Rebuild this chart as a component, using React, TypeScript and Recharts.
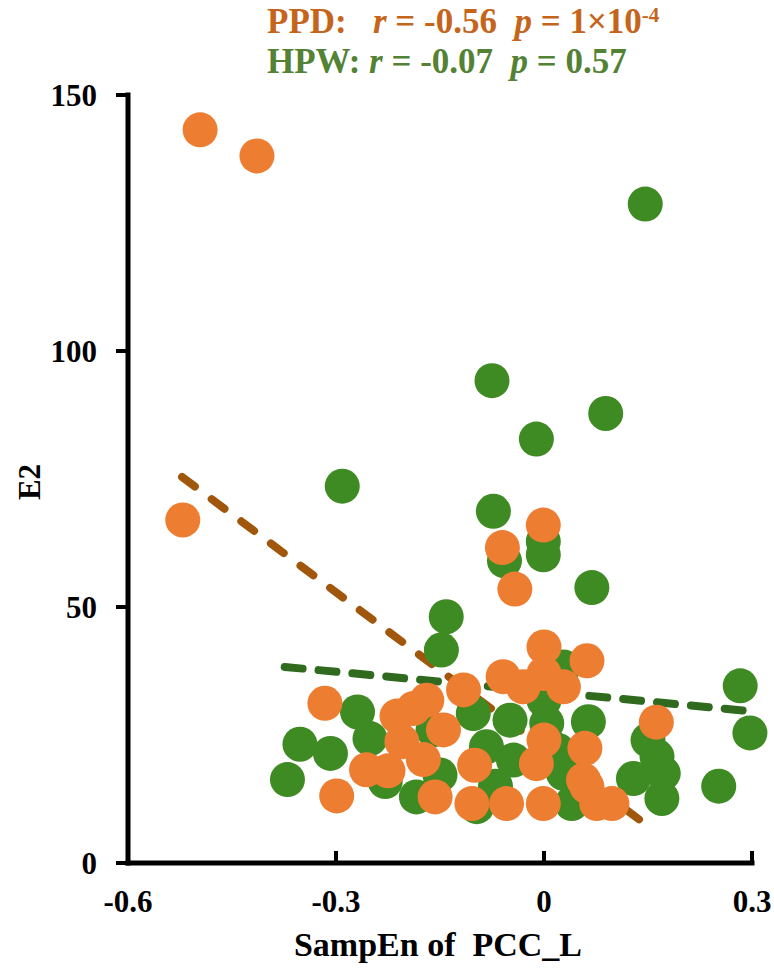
import React from 'react';
import { ReferenceLine, Scatter, ScatterChart, XAxis, YAxis } from 'recharts';

// PPD group (orange)
const ppdX = [
  -0.496, -0.414, -0.521, -0.001, -0.06, -0.042, 0.0, 0.062, 0.162, -0.316, -0.299, -0.256, -0.225,
  -0.212, -0.188, -0.169, -0.205, -0.174, -0.157, -0.059, -0.03, 0.028, 0.0, -0.116, -0.145, 0.0,
  0.059, -0.1, -0.011, 0.057, -0.104, -0.054, -0.001, 0.076, 0.098, 0.062,
];
const ppdY = [
  143.2, 138.1, 67.0, 66.0, 61.6, 53.5, 42.2, 39.5, 27.5, 31.2, 13.1, 18.2, 18.0, 28.7, 30.2, 31.8,
  23.7, 20.2, 12.9, 36.4, 34.4, 34.4, 37.0, 33.8, 26.0, 24.0, 22.4, 19.1, 19.4, 16.2, 11.6, 11.6,
  11.6, 11.6, 11.6, 14.9,
];

// HPW group (green)
const hpwX = [
  0.146, -0.075, 0.089, -0.011, -0.291, -0.073, -0.001, -0.001, -0.057, 0.069, -0.141, -0.148, 0.283,
  0.297, 0.252, -0.269, -0.352, -0.308, -0.37, -0.251, -0.229, -0.184, -0.16, 0.028, 0.0, -0.102,
  -0.049, 0.004, 0.064, -0.083, 0.15, 0.163, 0.172, 0.129, 0.17, -0.15, -0.044, 0.028, 0.04, -0.097,
  -0.07, 0.02,
];
const hpwY = [
  128.7, 94.2, 87.8, 82.8, 73.6, 68.7, 62.8, 60.2, 59.0, 53.8, 48.1, 41.6, 34.6, 25.4, 15.0, 29.5,
  23.2, 21.4, 16.3, 24.3, 15.9, 12.9, 26.0, 38.3, 31.8, 29.2, 27.9, 27.3, 27.6, 22.7, 24.0, 20.8,
  17.5, 16.5, 12.6, 17.2, 20.1, 17.5, 11.6, 11.0, 15.0, 22.0,
];

// regression line end points
const ppdFit = [
  { x: -0.522, y: 75.4 },
  { x: 0.156, y: 6.6 },
];
const hpwFit = [
  { x: -0.374, y: 38.3 },
  { x: 0.294, y: 29.7 },
];

const xTicks = [-0.6, -0.3, 0, 0.3];
const yTicks = [0, 50, 100, 150];

const ORANGE = '#ED7D31';
const GREEN = '#3E8A23';
const FONT = '"Liberation Serif", "Times New Roman", serif';

const ppdData = ppdX.map((x, i) => ({ x, y: ppdY[i] }));
const hpwData = hpwX.map((x, i) => ({ x, y: hpwY[i] }));

const fmtX = (v: number) => (v === 0 ? '0' : v.toFixed(1));

const dot = (color: string) => (props: any) => (
  <circle cx={props.cx} cy={props.cy} r={17.5} fill={color} />
);

// x ticks point up into the plot
const XTick = (props: any) => {
  const { x, y, payload } = props;
  return (
    <g>
      <line x1={x} x2={x} y1={y} y2={y - 12} stroke="#000" strokeWidth={4} />
      <text x={x} y={y + 49} textAnchor="middle" fontFamily={FONT} fontWeight="bold" fontSize={31} fill="#000">
        {fmtX(payload.value)}
      </text>
    </g>
  );
};

export default function App() {
  return (
    <div style={{ position: 'relative', width: 774, height: 979, fontFamily: FONT, fontWeight: 'bold' }}>
      <style>{'body{margin:0}'}</style>
      <ScatterChart width={774} height={979} margin={{ top: 95, right: 22, bottom: 0, left: 0 }}>
        <XAxis
          type="number"
          dataKey="x"
          domain={[-0.6, 0.3]}
          ticks={xTicks}
          interval={0}
          height={116}
          tickSize={0}
          tickMargin={0}
          tickLine={false}
          tick={<XTick />}
          axisLine={{ stroke: '#000', strokeWidth: 5, strokeLinecap: 'square' }}
        />
        <YAxis
          type="number"
          dataKey="y"
          domain={[0, 150]}
          ticks={yTicks}
          interval={0}
          width={128}
          tickSize={12}
          tickMargin={19}
          tickLine={{ stroke: '#000', strokeWidth: 4 }}
          axisLine={{ stroke: '#000', strokeWidth: 5, strokeLinecap: 'square' }}
          tick={{ fill: '#000', fontFamily: FONT, fontWeight: 'bold', fontSize: 31 }}
        />
        <Scatter data={hpwData} fill={GREEN} shape={dot(GREEN)} isAnimationActive={false} />
        <Scatter data={ppdData} fill={ORANGE} shape={dot(ORANGE)} isAnimationActive={false} />
        <ReferenceLine
          segment={hpwFit}
          ifOverflow="visible"
          stroke="#2F6A1E"
          strokeWidth={8}
          strokeDasharray="18 16"
          strokeLinecap="round"
        />
        <ReferenceLine
          segment={ppdFit}
          ifOverflow="visible"
          stroke="#A0570C"
          strokeWidth={8}
          strokeDasharray="16 21"
          strokeLinecap="round"
        />
      </ScatterChart>

      <div style={{ position: 'absolute', left: 267, top: 3, fontSize: 35, lineHeight: '38px', color: '#C5651C', whiteSpace: 'pre' }}>
        {'PPD:   '}<i>r</i>{' = -0.56  '}<i>p</i>{' = 1×10'}
        <span style={{ fontSize: 21, position: 'relative', top: -11 }}>-4</span>
      </div>
      <div style={{ position: 'absolute', left: 267, top: 43, fontSize: 35, lineHeight: '38px', color: '#548235', whiteSpace: 'pre' }}>
        {'HPW: '}<i>r</i>{' = -0.07  '}<i>p</i>{' = 0.57'}
      </div>
      <div
        style={{
          position: 'absolute',
          left: 0,
          top: 462,
          width: 60,
          textAlign: 'center',
          fontSize: 31,
          lineHeight: '40px',
          transform: 'rotate(-90deg)',
        }}
      >
        E2
      </div>
      <div style={{ position: 'absolute', left: 138, width: 600, top: 925, textAlign: 'center', fontSize: 34, lineHeight: '40px', whiteSpace: 'pre' }}>
        SampEn of  PCC_L
      </div>
    </div>
  );
}
